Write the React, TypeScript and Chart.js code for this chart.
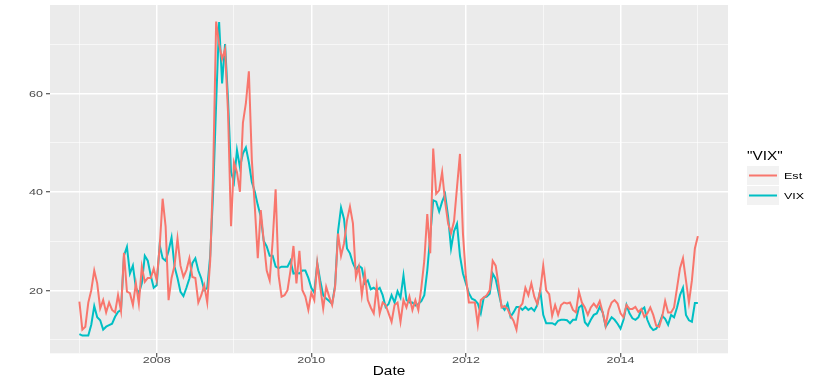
import React, { useEffect, useRef } from "react";
import { Chart, registerables } from "chart.js";

Chart.register(...registerables);

// ---- data (biweekly samples, Jan 2007 .. Dec 2014) ----
const startYear = 2007;
const endYear = 2015;

const estValues = [
  17.7, 12, 12.6, 17.5, 20, 24, 21.4, 16.3, 18, 15.5,
  17.5, 16, 15.5, 19, 15.8, 27.6, 19.7, 19.4, 17, 21.4,
  17.3, 24.8, 21.7, 22.5, 22.5, 24.4, 22, 28.8, 38.6, 33,
  18, 22.5, 25, 30.5, 25, 22.7, 24.1, 26.5, 22.7, 22.5,
  17.5, 19, 21, 17.5, 26, 44, 74.6, 70, 67, 69,
  56, 33, 46, 44, 40, 54, 58, 64.5, 46.5, 37,
  26.5, 36.3, 30, 24, 22, 30, 40.5, 23, 18.7, 19,
  20, 24, 29, 21.4, 28, 20, 18.7, 16, 19.5, 18,
  25.5, 20.7, 16.3, 20.7, 18.7, 17, 20.7, 31.5, 27, 29.5,
  34.2, 37, 33.6, 22.7, 24.8, 19, 23.4, 18, 16.5, 15.3,
  20.7, 15.3, 17.5, 17, 15.3, 13.6, 17, 17.5, 13.6, 18,
  16.5, 18.7, 16, 18, 16, 20.5, 26, 35.5, 27.5, 48.8,
  39.6, 40.3, 44, 38, 33.6, 31.6, 34, 40.9, 47.7, 31.5,
  22.7, 17.5, 17.5, 17.5, 13, 18, 18.5, 19, 20, 26,
  25, 21, 16.5, 16.8, 16.2, 14.8, 13.8, 12, 16.5, 17.3,
  20.5, 19, 21.4, 18.7, 17.2, 20, 25, 20, 19.2, 14.8,
  17, 15, 17, 17.5, 17.3, 17.5, 16, 15.5, 19.7, 17.5,
  16.5, 15, 16.5, 17.3, 16.5, 17.8, 15.5, 12.8, 16, 17.5,
  18, 17.3, 15.3, 14.5, 17, 16.2, 16.2, 16.6, 15.6, 16.2,
  14.6, 15.3, 16.5, 15, 12.8, 12.6, 14.6, 17.8, 15.5, 15.5,
  16.5, 20.5, 24.5, 26.5, 22, 17.5, 22, 28.5, 31,
];

const vixValues = [
  11.1, 10.8, 10.8, 10.8, 13, 16.8, 14.5, 13.9, 12, 12.6,
  12.9, 13.2, 14.6, 15.6, 16, 27, 28.8, 23.4, 25, 20.5,
  19.4, 21.4, 27, 26, 23, 20.5, 21, 29.2, 26.5, 26,
  28, 30.7, 24.8, 22.5, 19.7, 18.8, 20.5, 22.4, 25.5, 26.5,
  24, 22.4, 20, 20.5, 27, 40, 58, 74.5, 62, 70,
  58.6, 44, 42, 48.5, 45, 47.8, 49, 46, 42, 40,
  37.3, 35, 30, 28.9, 27, 27, 24.8, 24.5, 24.8, 24.8,
  24.8, 26, 23.4, 23.5, 23.4, 24, 24, 22.5, 20.5, 19.5,
  25.5, 22, 19, 18.3, 17.8, 17.2, 21, 32, 36.8, 34.5,
  28.5, 27.5, 25.5, 24.2, 25, 24.5, 21.4, 22, 20.2, 20.5,
  20, 20.5, 19, 16.6, 17.2, 19, 17.5, 19.8, 18.5, 23,
  18, 17.5, 17.5, 16.9, 17.2, 17.8, 19, 24, 31, 38.3,
  38, 36, 38, 39.5, 35, 28.5, 32, 33.5, 27, 23.4,
  21.4, 19.4, 18.3, 18, 17.3, 15.3, 18.5, 18.7, 19.3, 23.4,
  22.3, 19.5, 16.8, 16, 17.3, 14.6, 15.5, 16.6, 16.6, 16,
  16.6, 16, 16.4, 15.8, 17, 20, 15, 13.3, 13.3, 13.3,
  13, 13.8, 14, 14, 13.9, 13.3, 14, 14, 16.5, 17,
  13.5, 12.8, 14, 15, 15.3, 16.6, 15.5, 12.6, 13.5, 14.5,
  14, 13.2, 12.2, 14, 17, 15.3, 14.3, 14, 14.5, 16,
  16.5, 14, 12.6, 11.9, 12.2, 13.2, 14.8, 14.2, 13, 15,
  14.5, 16.5, 19, 20.5, 15, 13.9, 13.6, 17.4, 17.4,
];

const seriesNames = ["Est", "VIX"];
const seriesColors = ["#F8766D", "#00BFC4"];
const xTickValues = [2007, 2008, 2009, 2010, 2011, 2012, 2013, 2014, 2015];
const xTickLabels = ["", "2008", "", "2010", "", "2012", "", "2014", ""];
const yTickValues = [10, 20, 30, 40, 50, 60, 70];
const yTickLabels = ["", "20", "", "40", "", "60", ""];
const xAxisTitle = "Date";
const legendTitle = '"VIX"';

const nPoints = estValues.length;
const dates = estValues.map(
  (_, i) => startYear + (i * (endYear - startYear)) / (nPoints - 1)
);

const FONT = '"Liberation Sans", Arial, Helvetica, sans-serif';
const SX = 1.28;

function drawText(
  ctx: CanvasRenderingContext2D,
  text: string,
  x: number,
  y: number,
  align: "left" | "center" | "right",
  size: number,
  color: string
) {
  ctx.save();
  ctx.font = `${size}px ${FONT}`;
  ctx.fillStyle = color;
  ctx.textBaseline = "alphabetic";
  ctx.textAlign = "left";
  const w = ctx.measureText(text).width * SX;
  const x0 = align === "center" ? x - w / 2 : align === "right" ? x - w : x;
  ctx.translate(x0, y);
  ctx.scale(SX, 1);
  ctx.fillText(text, 0, 0);
  ctx.restore();
}

const panelPlugin = {
  id: "panelBg",
  beforeDraw(chart: any) {
    const { ctx, chartArea } = chart;
    ctx.save();
    ctx.fillStyle = "#EBEBEB";
    ctx.fillRect(
      chartArea.left,
      chartArea.top,
      chartArea.right - chartArea.left,
      chartArea.bottom - chartArea.top
    );
    ctx.restore();
  },
};

const textPlugin = {
  id: "ggText",
  afterDraw(chart: any) {
    const { ctx, chartArea } = chart;
    const xs = chart.scales.x;
    const ys = chart.scales.y;
    xTickValues.forEach((v, i) => {
      const lab = xTickLabels[i];
      if (!lab) return;
      drawText(ctx, lab, xs.getPixelForValue(v), chartArea.bottom + 10, "center", 9.8, "#4D4D4D");
    });
    yTickValues.forEach((v, i) => {
      const lab = yTickLabels[i];
      if (!lab) return;
      drawText(ctx, lab, 43, ys.getPixelForValue(v) + 3.5, "right", 9.8, "#4D4D4D");
    });
    drawText(
      ctx,
      xAxisTitle,
      (chartArea.left + chartArea.right) / 2,
      375,
      "center",
      12,
      "#000000"
    );
    // legend
    drawText(ctx, legendTitle, 747, 160, "left", 12, "#000000");
    seriesNames.forEach((name, i) => {
      const top = 166 + i * 20;
      ctx.save();
      ctx.fillStyle = "#F2F2F2";
      ctx.fillRect(747, top, 32, 19);
      ctx.strokeStyle = seriesColors[i];
      ctx.lineWidth = 2;
      ctx.beginPath();
      ctx.moveTo(749, top + 9.5);
      ctx.lineTo(777, top + 9.5);
      ctx.stroke();
      ctx.restore();
      drawText(ctx, name, 784, top + 13, "left", 9.8, "#000000");
    });
  },
};

export default function App() {
  const canvasRef = useRef<HTMLCanvasElement | null>(null);

  useEffect(() => {
    if (!canvasRef.current) return;
    const chart = new Chart(canvasRef.current, {
      type: "line",
      data: {
        datasets: [
          {
            label: seriesNames[0],
            data: dates.map((d, i) => ({ x: d, y: estValues[i] })),
            borderColor: seriesColors[0],
            borderWidth: 2,
            pointRadius: 0,
            tension: 0,
            fill: false,
            order: 0,
          },
          {
            label: seriesNames[1],
            data: dates.map((d, i) => ({ x: d, y: vixValues[i] })),
            borderColor: seriesColors[1],
            borderWidth: 2,
            pointRadius: 0,
            tension: 0,
            fill: false,
            order: 1,
          },
        ],
      },
      options: {
        animation: false,
        responsive: false,
        maintainAspectRatio: false,
        devicePixelRatio: 1,
        layout: { padding: { left: 0, right: 102, top: 5, bottom: 0 } },
        plugins: { legend: { display: false }, tooltip: { enabled: false } },
        scales: {
          x: {
            type: "linear",
            min: 2006.62,
            max: 2015.39,
            afterBuildTicks: (s: any) => {
              s.ticks = xTickValues.map((v) => ({ value: v }));
            },
            afterFit: (s: any) => {
              s.height = 27.7;
            },
            ticks: { display: false },
            border: { display: false },
            grid: {
              color: "#FFFFFF",
              lineWidth: (c: any) => (c.tick && c.tick.value % 2 === 0 ? 1.5 : 0.6),
              drawTicks: true,
              tickLength: 4,
              tickWidth: 1,
              tickColor: (c: any) =>
                c.tick && c.tick.value % 2 === 0 ? "#333333" : "rgba(0,0,0,0)",
            },
          },
          y: {
            type: "linear",
            min: 7.19,
            max: 77.96,
            afterBuildTicks: (s: any) => {
              s.ticks = yTickValues.map((v) => ({ value: v }));
            },
            afterFit: (s: any) => {
              s.width = 50;
            },
            ticks: { display: false },
            border: { display: false },
            grid: {
              color: "#FFFFFF",
              lineWidth: (c: any) => (c.tick && c.tick.value % 20 === 0 ? 1.5 : 0.6),
              drawTicks: true,
              tickLength: 4,
              tickWidth: 1,
              tickColor: (c: any) =>
                c.tick && c.tick.value % 20 === 0 ? "#333333" : "rgba(0,0,0,0)",
            },
          },
        },
      },
      plugins: [panelPlugin, textPlugin],
    } as any);
    return () => chart.destroy();
  }, []);

  return (
    <div
      style={{
        position: "fixed",
        left: 0,
        top: 0,
        width: 830,
        height: 381,
        background: "#FFFFFF",
      }}
    >
      <canvas ref={canvasRef} width={830} height={381} style={{ width: 830, height: 381, display: "block" }} />
    </div>
  );
}
